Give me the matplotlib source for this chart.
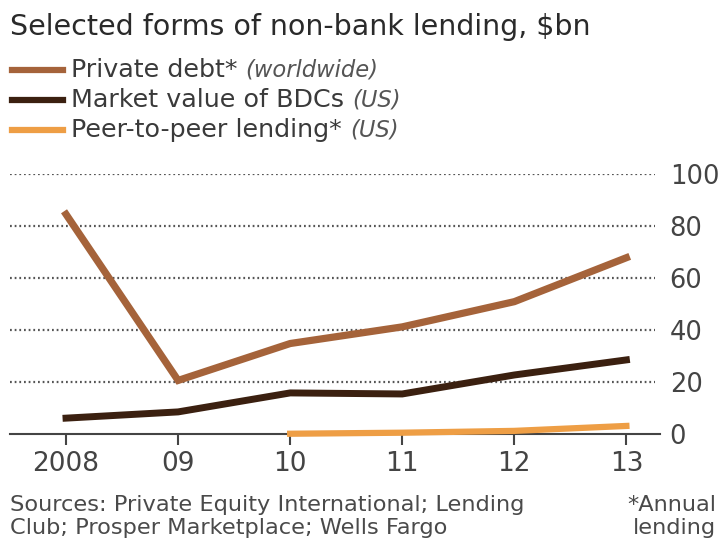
import matplotlib
matplotlib.use("Agg")
import matplotlib.pyplot as plt
from matplotlib.lines import Line2D

years = [2008, 2009, 2010, 2011, 2012, 2013]
xlabels = ["2008", "09", "10", "11", "12", "13"]
private_debt = [84.5, 20.6, 34.8, 41.2, 50.9, 67.8]
bdc = [6.1, 8.5, 15.8, 15.4, 22.7, 28.5]
p2p_years = [2010, 2011, 2012, 2013]
p2p = [0.1, 0.5, 1.2, 3.1]
yticks = [0, 20, 40, 60, 80, 100]

C_PD = "#a5633a"
C_BDC = "#3b2010"
C_P2P = "#ee9e45"
FONT = ["DejaVu Sans"]
plt.rcParams["font.family"] = FONT

W, H = 719, 540
fig = plt.figure(figsize=(W / 100, H / 100), dpi=100)
fig.patch.set_facecolor("white")

ax = fig.add_axes([10 / W, 1 - 434 / H, 650 / W, 260 / H])
ax.set_xlim(2007.5, 2013.3)
ax.set_ylim(0, 100)

for y in yticks[1:]:
    ax.axhline(y, color="#555555", lw=1.6, ls=(0, (0.8, 1.3)), xmax=0.992, zorder=1)

ax.plot(years, private_debt, color=C_PD, lw=5.2, solid_joinstyle="miter", zorder=3, clip_on=False)
ax.plot(years, bdc, color=C_BDC, lw=5.0, solid_joinstyle="miter", zorder=3, clip_on=False)
ax.plot(p2p_years, p2p, color=C_P2P, lw=4.5, zorder=4, clip_on=False)

for s in ["top", "right", "left"]:
    ax.spines[s].set_visible(False)
ax.spines["bottom"].set_color("#444444")
ax.spines["bottom"].set_linewidth(1.5)

ax.set_xticks(years)
ax.set_xticklabels(xlabels)
ax.tick_params(axis="x", direction="out", length=8, width=1.5, color="#444444",
               pad=4, labelsize=19, labelcolor="#444444")
ax.yaxis.tick_right()
ax.set_yticks(yticks)
ax.set_yticklabels([str(v) for v in yticks])
ax.tick_params(axis="y", length=0, pad=7, labelsize=18.5, labelcolor="#444444")

fig.text(10 / W, 1 - 27 / H, "Selected forms of non-bank lending, $bn",
         fontsize=20.5, color="#2a2a2a", va="center", ha="left")

renderer = fig.canvas.get_renderer()
legend = [("Private debt*", "(worldwide)", C_PD, 70),
          ("Market value of BDCs", "(US)", C_BDC, 100),
          ("Peer-to-peer lending*", "(US)", C_P2P, 130)]
for main, sub, col, ypx in legend:
    yf = 1 - ypx / H
    fig.add_artist(Line2D([12 / W, 63 / W], [yf, yf], color=col, lw=4.5,
                          transform=fig.transFigure))
    t = fig.text(71 / W, yf, main, fontsize=18.3, color="#3a3a3a", va="center", ha="left")
    bb = t.get_window_extent(renderer=renderer)
    fig.text((bb.x1 + 8) / W, yf, sub, fontsize=16.3, color="#555555",
             style="italic", va="center", ha="left")

fig.text(10 / W, 1 - 505 / H, "Sources: Private Equity International; Lending",
         fontsize=16.2, color="#4a4a4a", va="center", ha="left")
fig.text(10 / W, 1 - 528 / H, "Club; Prosper Marketplace; Wells Fargo",
         fontsize=16.2, color="#4a4a4a", va="center", ha="left")
fig.text(716 / W, 1 - 505 / H, "*Annual", fontsize=16.2, color="#4a4a4a", va="center", ha="right")
fig.text(716 / W, 1 - 528 / H, "lending", fontsize=16.2, color="#4a4a4a", va="center", ha="right")

fig.savefig("out.png", dpi=100, facecolor="white")
